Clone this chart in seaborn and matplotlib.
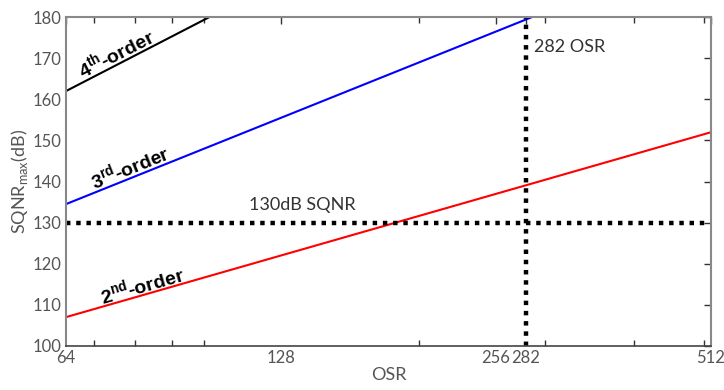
import numpy as np
import pandas as pd
import matplotlib
matplotlib.use("Agg")
import matplotlib.pyplot as plt
import seaborn as sns
from matplotlib.ticker import FixedLocator, NullFormatter

osr = [64, 512]
sqnr_2nd = [107, 152]
sqnr_3rd = [134.5, 197.5]
sqnr_4th = [162, 243]
order_names = ["2nd-order", "3rd-order", "4th-order"]
order_colors = ["#ff0000", "#0000ff", "#000000"]
target_sqnr = 130
target_osr = 282
xticks = [64, 128, 256, 282, 512]
minor_xticks = [70, 80, 90, 100, 200, 300, 400, 500]
yticks = [100, 110, 120, 130, 140, 150, 160, 170, 180]

sns.set_theme(style="white")
plt.rcParams['font.family'] = ['Lato', 'DejaVu Sans']
plt.rcParams['mathtext.fontset'] = 'custom'
plt.rcParams['mathtext.bf'] = 'Liberation Sans:bold'

df = pd.DataFrame({
    "OSR": osr * 3,
    "SQNR": sqnr_2nd + sqnr_3rd + sqnr_4th,
    "order": [order_names[0]] * 2 + [order_names[1]] * 2 + [order_names[2]] * 2,
})

fig = plt.figure(figsize=(7.24, 3.9), dpi=100)
ax = fig.add_axes([0.091, 0.113, 0.891, 0.843])
sns.lineplot(data=df, x="OSR", y="SQNR", hue="order", palette=order_colors,
             ax=ax, legend=False, linewidth=1.5)
ax.set_xscale("log", base=2)
ax.set_xlim(64, 512)
ax.set_ylim(100, 180)

dot = (0, (1, 1.3))
ax.plot([64, 512], [target_sqnr, target_sqnr], color="black", lw=3.2, linestyle=dot, clip_on=False)
ax.plot([target_osr, target_osr], [100, 180], color="black", lw=3.2, linestyle=dot, clip_on=False)

ax.xaxis.set_major_locator(FixedLocator(xticks))
ax.set_xticklabels([str(t) for t in xticks])
ax.xaxis.set_minor_locator(FixedLocator(minor_xticks))
ax.xaxis.set_minor_formatter(NullFormatter())
ax.set_yticks(yticks)

gray = "#555555"
ax.tick_params(axis="both", which="major", direction="in", length=5, width=1, color="#333333",
               labelcolor=gray, labelsize=12, top=True, right=True, pad=3)
ax.tick_params(axis="x", which="minor", direction="in", length=4, width=1, color="#333333",
               top=True, bottom=True)
for s in ax.spines.values():
    s.set_color("#888888")
    s.set_linewidth(1.5)
ax.spines["bottom"].set_color("#444444")
ax.spines["bottom"].set_linewidth(1.2)

ax.set_xlabel("OSR", color=gray, fontsize=13, labelpad=1)
ax.set_ylabel(r"SQNR$_{\mathregular{max}}$(dB)", color=gray, fontsize=13, labelpad=2)

lab_font = dict(fontsize=14, fontweight="bold", color="black", family=["Liberation Sans"],
                ha="center", va="center", rotation_mode="anchor")
ax.text(75.3, 171.3, r"4$^{\mathbf{th}}$-order", rotation=27, **lab_font)
ax.text(78.7, 143.6, r"3$^{\mathbf{rd}}$-order", rotation=22, **lab_font)
ax.text(81.8, 114.8, r"2$^{\mathbf{nd}}$-order", rotation=16, **lab_font)

ax.text(115.5, 134.3, "130dB SQNR", fontsize=13, color="#333333", va="center", ha="left")
ax.text(289, 172.7, "282 OSR", fontsize=13, color="#333333", va="center", ha="left")

fig.savefig("out.png", dpi=100)
